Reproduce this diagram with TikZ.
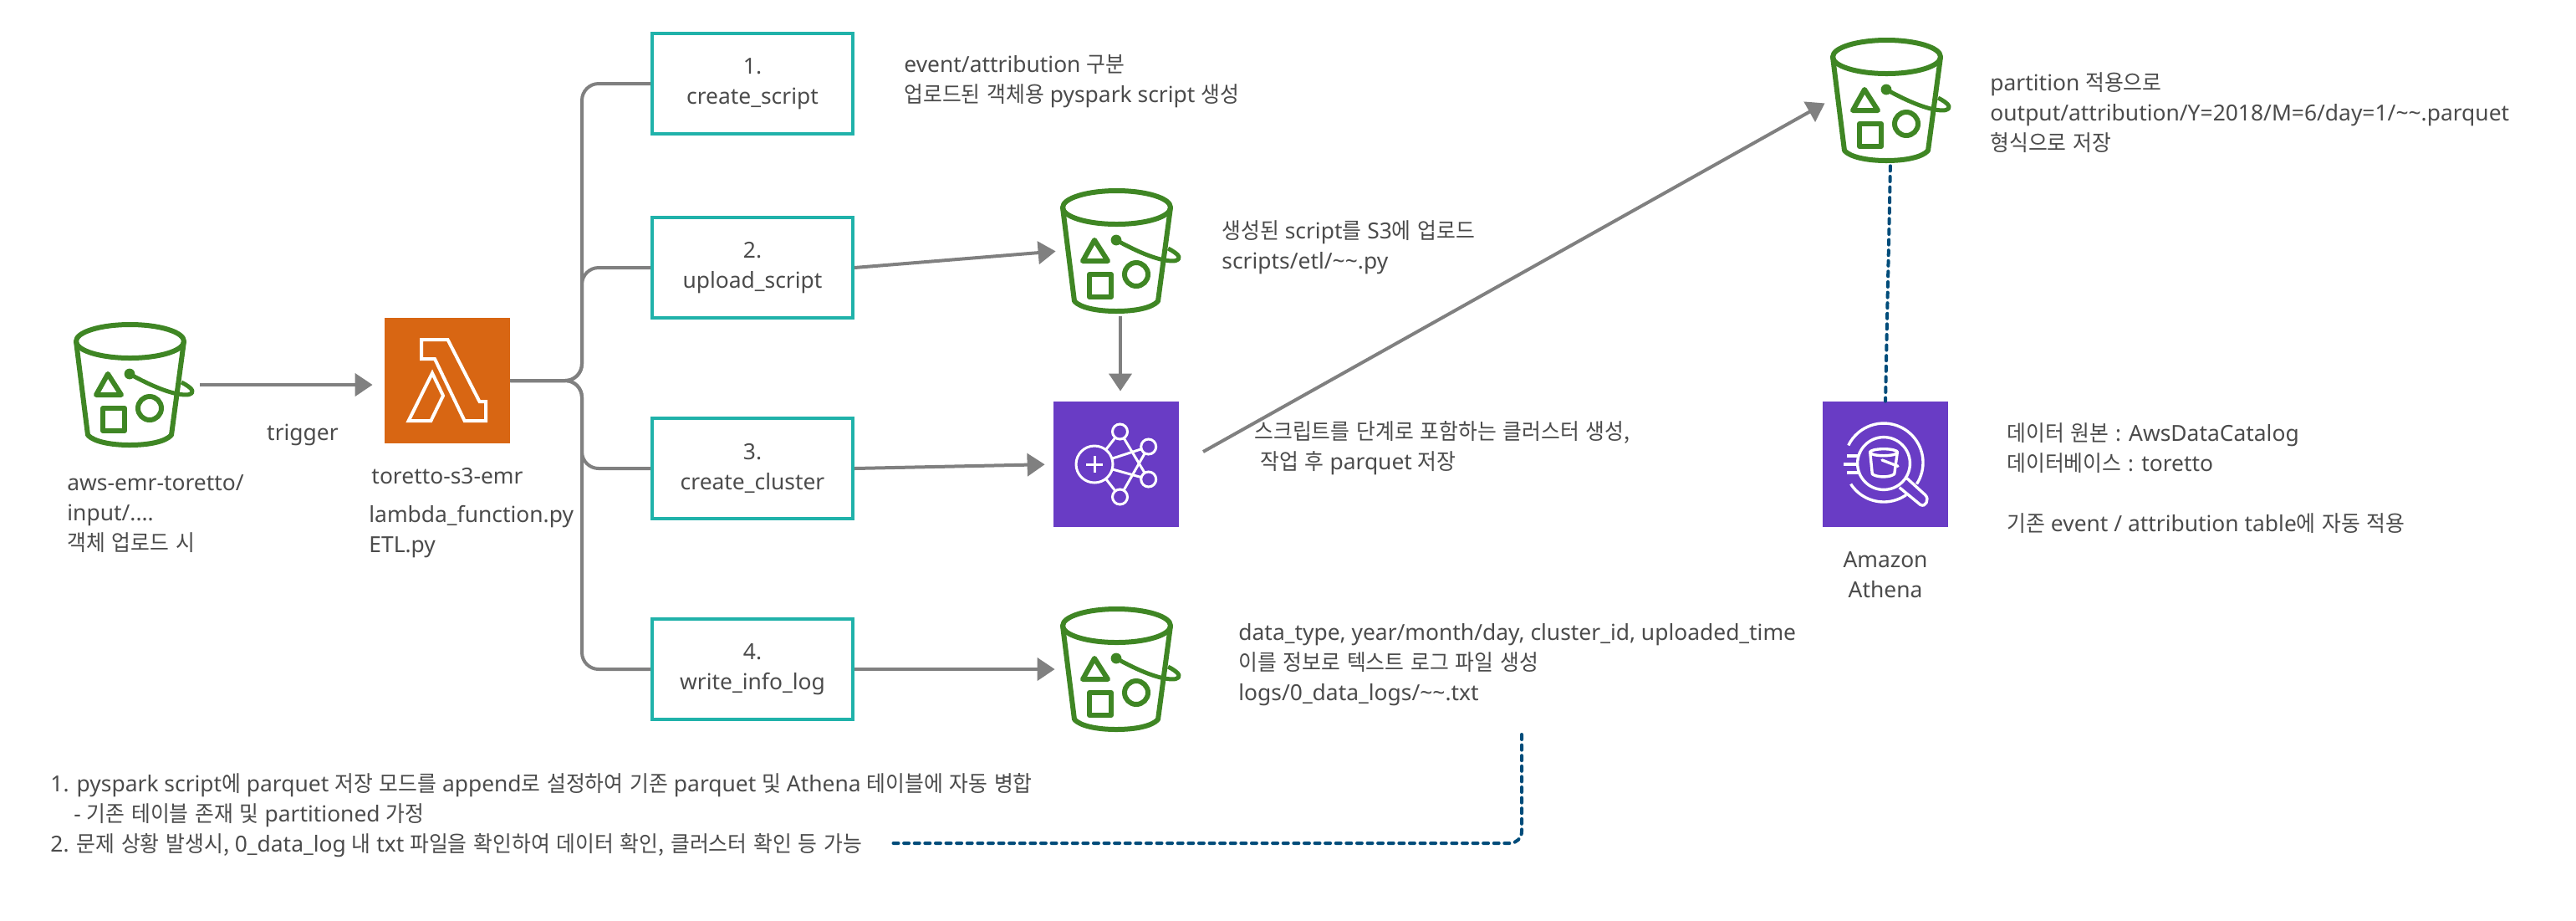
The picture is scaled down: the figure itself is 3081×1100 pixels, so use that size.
\documentclass[tikz,border=0pt]{standalone}
\usepackage{fontspec}
\setmainfont{Noto Sans}
\newfontfamily\kr[FakeStretch=0.94,WordSpace=1.4]{Noto Sans CJK KR}
\usetikzlibrary{positioning, arrows.meta}
\definecolor{bucketgreen}{HTML}{3F8624}
\definecolor{lambdaorange}{HTML}{D86613}
\definecolor{awspurple}{HTML}{693CC5}
\definecolor{stepteal}{HTML}{20B2AA}
\definecolor{dashnavy}{HTML}{004C7A}
\definecolor{textgray}{HTML}{4B4B4B}
\tikzset{
    txt/.style={anchor=west, align=left, inner sep=0pt, text=textgray, font=\fontsize{13.2}{18}\selectfont},
    stepbox/.style={draw=stepteal, line width=2pt, minimum width=120pt, minimum height=60pt, align=center, inner sep=0pt, text=textgray, font=\fontsize{13.2}{18}\selectfont},
    bucketbox/.style={minimum width=72pt, minimum height=75pt, inner sep=0pt},
    svcbox/.style={fill=#1, minimum width=75pt, minimum height=75pt, inner sep=0pt},
    flow/.style={draw=gray, line width=2pt},
    flowarrow/.style={flow, -{Triangle[length=10.5pt, width=13.5pt]}},
    dashlink/.style={draw=dashnavy, line width=2pt, line cap=round, dash pattern=on 3pt off 3.3pt},
    s3bucket/.pic={
        \begin{scope}[shift={(-72,-75)}, draw=bucketgreen, line width=3pt, line join=round]
            \draw (67.5,23) ellipse [x radius=32.25pt, y radius=10pt];
            \draw (3,23) -- (17,135) .. controls (24,143) and (45,147) .. (67,147) .. controls (90,147) and (110,143) .. (117,135) -- (132,23);
            \draw (41,62) -- (27,87) -- (57,87) -- cycle;
            \draw (35,103) rectangle (61,130);
            \draw (91,103) circle [radius=7pt];
            \fill[bucketgreen] (67,62) circle [radius=3.2pt];
            \draw[line width=2.5pt] (67,62) .. controls (85,72) and (108,83) .. (125,86) .. controls (136,88) and (143,87) .. (142,82) .. controls (141,79) and (135,75) .. (129,72);
        \end{scope}
    },
    lambdamark/.pic={
        \begin{scope}[shift={(-75,-75)}, draw=white, line width=2pt, line join=miter]
            \draw (44,26) -- (75.5,26) -- (113.5,100) -- (121,100) -- (121,123) -- (95.6,123) -- (60,49) -- (44,49) -- cycle;
            \draw (57,66) -- (70,93) -- (55.4,123) -- (28.7,123) -- cycle;
        \end{scope}
    },
    emrmark/.pic={
        \begin{scope}[shift={(-75,-75)}, draw=white, line width=1.5pt]
            \draw (79.5,36) -- (49,75) -- (79.5,114);
            \draw (79.5,36) -- (113.7,93);
            \draw (79.5,114) -- (113.7,54);
            \draw (49,75) -- (113.7,54);
            \draw (49,75) -- (113.7,93);
            \foreach \px/\py in {79.5/36, 113.7/54, 113.7/93, 79.5/114}
                \filldraw[fill=awspurple] (\px,\py) circle [radius=4.5pt];
            \filldraw[fill=awspurple] (49,75) circle [radius=11pt];
            \draw (39,75) -- (59,75);
            \draw (49,65) -- (49,85);
        \end{scope}
    },
    athenamark/.pic={
        \begin{scope}[shift={(-75,-75)}, draw=white, line width=1.7pt, line join=round]
            \draw (73,73) ++(154:23.5pt) arc [start angle=154, end angle=-33, radius=23.5pt];
            \draw (73,73) ++(213:23.5pt) arc [start angle=213, end angle=305, radius=23.5pt];
            \draw (73,74) circle [radius=15.7pt];
            \draw[line width=2pt] (29,64.7) -- (43,64.7);
            \draw[line width=2pt] (25,74.7) -- (43,74.7);
            \draw[line width=2pt] (29,84.7) -- (43,84.7);
            \draw (73,60.7) ellipse [x radius=8.3pt, y radius=2pt];
            \draw (56.7,60.7) -- (59.3,86.7) .. controls (65,91) and (80,91) .. (85.7,86.7) -- (89.3,60.7);
            \draw[line cap=round] (71,70) -- (90,77.3);
            \draw (91.7,102.7) -- (116.7,123.3) .. controls (123,127) and (128,117) .. (122.7,111.7) -- (100.7,91.7);
        \end{scope}
    }
}

\begin{document}
\begin{tikzpicture}[x=0.5pt, y=-0.5pt]
    \useasboundingbox (0,0) rectangle (3081,1100);

    \node (srcbucket) [bucketbox] at (160,460) {};
    \pic at (srcbucket) {s3bucket};
    \node (lambdafn) [svcbox=lambdaorange] at (535,455) {};
    \pic at (lambdafn) {lambdamark};

    \node (createbox) [stepbox] at (900,100) {1.\\create\_script};
    \node (uploadbox) [stepbox] at (900,320) {2.\\upload\_script};
    \node (clusterbox) [stepbox] at (900,560) {3.\\create\_cluster};
    \node (logbox) [stepbox] at (900,800) {4.\\write\_info\_log};

    \node (scriptbucket) [bucketbox] at (1340,300) {};
    \pic at (scriptbucket) {s3bucket};
    \node (emrnode) [svcbox=awspurple] at (1335,555) {};
    \pic at (emrnode) {emrmark};
    \node (logbucket) [bucketbox] at (1340,800) {};
    \pic at (logbucket) {s3bucket};
    \node (outbucket) [bucketbox] at (2261,120) {};
    \pic at (outbucket) {s3bucket};
    \node (athena) [svcbox=awspurple] at (2255,555) {};
    \pic at (athena) {athenamark};

    \node (srclabel) [txt] at (80,614) {aws-emr-toretto/\\input/....\\{\kr 객체 업로드 시}};
    \node (triggerlabel) [txt, anchor=center] at (362,520) {trigger};
    \node (fnname) [txt, anchor=center] at (535,569) {toretto-s3-emr};
    \node (fnfiles) [txt] at (441,636) {lambda\_function.py\\ETL.py};
    \node (createnote) [txt] at (1081,97) {event/attribution {\kr 구분}\\{\kr 업로드된 객체용} pyspark script {\kr 생성}};
    \node (uploadnote) [txt] at (1461,296) {{\kr 생성된} script{\kr 를} S3{\kr 에 업로드}\\scripts/etl/\textasciitilde\textasciitilde.py};
    \node (clusternote) [txt] at (1500,536) {{\kr 스크립트를 단계로 포함하는 클러스터 생성,}\\[0pt]\hspace*{3.5pt}{\kr 작업 후} parquet {\kr 저장}};
    \node (lognote) [txt] at (1481,795) {data\_type, year/month/day, cluster\_id, uploaded\_time\\{\kr 이를 정보로 텍스트 로그 파일 생성}\\logs/0\_data\_logs/\textasciitilde\textasciitilde.txt};
    \node (outnote) [txt] at (2380,135) {partition {\kr 적용으로}\\output/attribution/Y=2018/M=6/day=1/\textasciitilde\textasciitilde.parquet\\{\kr 형식으로 저장}};
    \node (athenanote) [txt] at (2400,572) {{\kr 데이터 원본 :} AwsDataCatalog\\{\kr 데이터베이스 :} toretto\\\\{\kr 기존} event / attribution table{\kr 에 자동 적용}};
    \node (athenaname) [txt, anchor=center, align=center] at (2255,687) {Amazon\\Athena};
    \node (mainnote) [txt] at (60,975) {1. pyspark script{\kr 에} parquet {\kr 저장 모드를} append{\kr 로 설정하여 기존} parquet {\kr 및} Athena {\kr 테이블에 자동 병합}\\\hspace*{14pt}- {\kr 기존 테이블 존재 및} partitioned {\kr 가정}\\2. {\kr 문제 상황 발생시,} 0\_data\_log {\kr 내} txt {\kr 파일을 확인하여 데이터 확인, 클러스터 확인 등 가능}};

    \draw[flowarrow, shorten <=3.5pt, shorten >=7pt] (srcbucket.east) -- (srcbucket.east -| lambdafn.west);

    % tree out of the lambda
    \coordinate (trunka) at (696,100);
    \coordinate (trunkb) at (696,320);
    \coordinate (trunkc) at (696,560);
    \coordinate (trunkd) at (696,800);
    \draw[flow, rounded corners=10pt] (lambdafn.east) -| (trunka) -- (createbox.west);
    \draw[flow, rounded corners=10pt] (lambdafn.east) -| (trunkb) -- (uploadbox.west);
    \draw[flow, rounded corners=10pt] (lambdafn.east) -| (trunkc) -- (clusterbox.west);
    \draw[flow, rounded corners=10pt] (lambdafn.east) -| (trunkd) -- (logbox.west);

    \draw[flowarrow, shorten >=2.5pt] (uploadbox.east) -- (scriptbucket.west);
    \draw[flowarrow, shorten <=1.5pt, shorten >=6pt] (scriptbucket.south) -- (scriptbucket.south |- emrnode.north);
    \draw[flowarrow, shorten >=5pt] (clusterbox.east) -- (emrnode.west);
    \draw[flowarrow, shorten >=3pt] (logbox.east) -- (logbucket.west);
    \coordinate (emrout) at (1439,540);
    \draw[flowarrow, shorten >=3.5pt] (emrout) -- (outbucket.west);

    \draw[dashlink, shorten <=1.5pt] (outbucket.south) -- (athena.north);
    \coordinate (logdrop) at (1820,878);
    \coordinate (noteend) at (1063,1008);
    \draw[dashlink, rounded corners=7pt] (logdrop) |- (noteend);
\end{tikzpicture}
\end{document}
